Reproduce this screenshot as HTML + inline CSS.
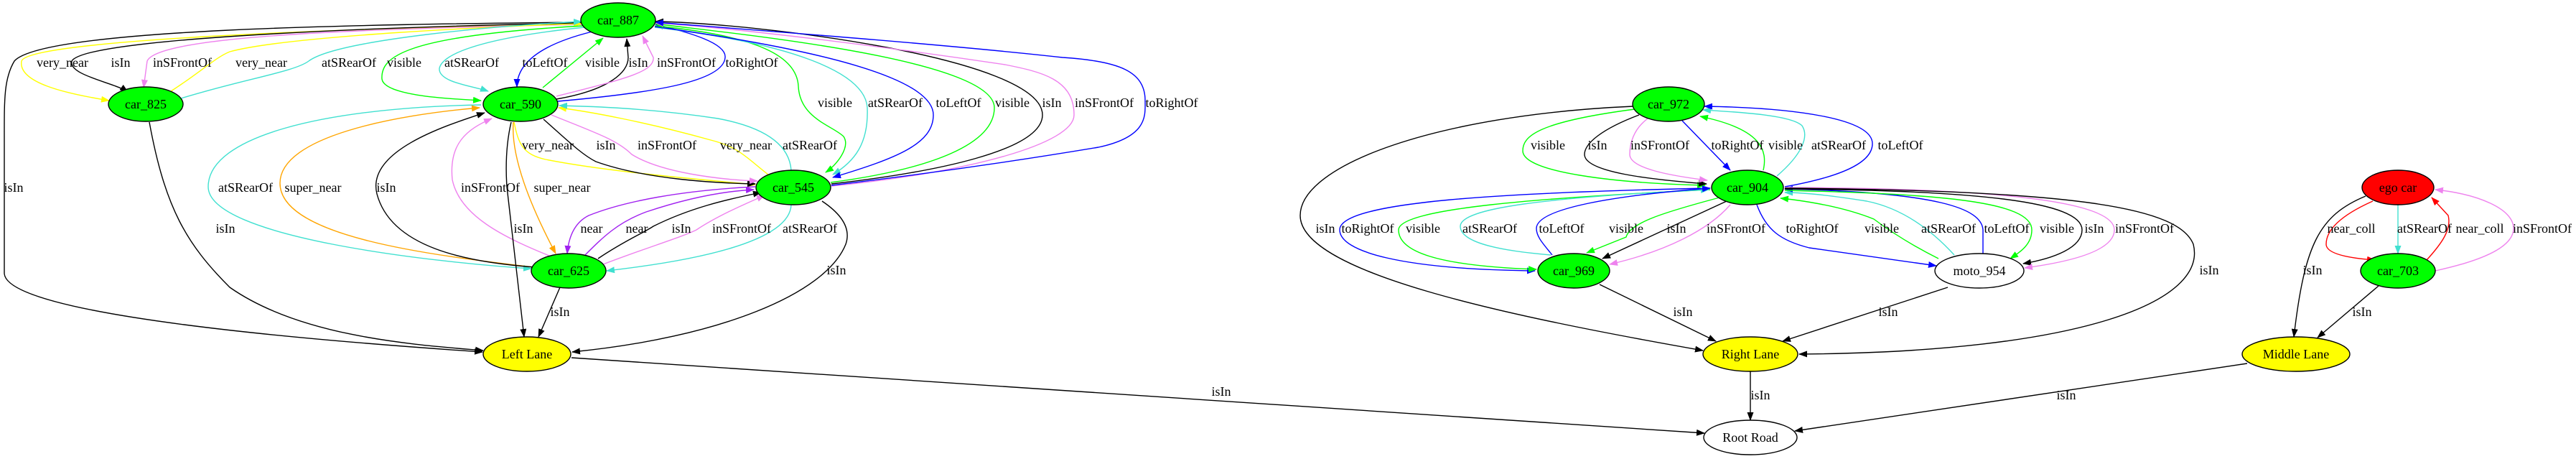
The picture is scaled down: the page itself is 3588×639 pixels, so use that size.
<!DOCTYPE html>
<html><head><meta charset="utf-8"><style>
html,body{margin:0;padding:0;background:#fff;}
svg{display:block;}
text{font-family:"Liberation Serif",serif;font-size:18px;text-anchor:middle;fill:#000;}
</style></head><body>
<svg width="3588" height="639" viewBox="0 0 3588 639" xmlns="http://www.w3.org/2000/svg">
<defs>
<marker id="k" markerWidth="12" markerHeight="9" refX="11" refY="4.5" orient="auto" markerUnits="userSpaceOnUse"><path d="M0,0L12,4.5L0,9z" fill="#000"/></marker>
<marker id="y" markerWidth="12" markerHeight="9" refX="11" refY="4.5" orient="auto" markerUnits="userSpaceOnUse"><path d="M0,0L12,4.5L0,9z" fill="#ffff00"/></marker>
<marker id="v" markerWidth="12" markerHeight="9" refX="11" refY="4.5" orient="auto" markerUnits="userSpaceOnUse"><path d="M0,0L12,4.5L0,9z" fill="#ee82ee"/></marker>
<marker id="c" markerWidth="12" markerHeight="9" refX="11" refY="4.5" orient="auto" markerUnits="userSpaceOnUse"><path d="M0,0L12,4.5L0,9z" fill="#40e0d0"/></marker>
<marker id="g" markerWidth="12" markerHeight="9" refX="11" refY="4.5" orient="auto" markerUnits="userSpaceOnUse"><path d="M0,0L12,4.5L0,9z" fill="#00ff00"/></marker>
<marker id="b" markerWidth="12" markerHeight="9" refX="11" refY="4.5" orient="auto" markerUnits="userSpaceOnUse"><path d="M0,0L12,4.5L0,9z" fill="#0000ff"/></marker>
<marker id="o" markerWidth="12" markerHeight="9" refX="11" refY="4.5" orient="auto" markerUnits="userSpaceOnUse"><path d="M0,0L12,4.5L0,9z" fill="#ffa500"/></marker>
<marker id="p" markerWidth="12" markerHeight="9" refX="11" refY="4.5" orient="auto" markerUnits="userSpaceOnUse"><path d="M0,0L12,4.5L0,9z" fill="#a020f0"/></marker>
<marker id="r" markerWidth="12" markerHeight="9" refX="11" refY="4.5" orient="auto" markerUnits="userSpaceOnUse"><path d="M0,0L12,4.5L0,9z" fill="#ff0000"/></marker>
</defs>
<g fill="none" stroke-width="1.4">
<!-- left cluster -->
<path stroke="#000" marker-end="url(#k)" d="M810,31 C500,34 60,40 20,85 C5,110 6,140 6,200 L6,380 C6,440 450,475 672,490"/>
<path stroke="#ffff00" marker-end="url(#y)" d="M810,34 C500,38 40,55 30,85 C25,115 90,130 152,140"/>
<path stroke="#000" marker-end="url(#k)" d="M812,32 C600,36 120,50 100,85 C95,105 160,115 178,128"/>
<path stroke="#ee82ee" marker-end="url(#v)" d="M812,34 C500,40 220,50 205,85 L200,122"/>
<path stroke="#ffff00" marker-end="url(#y)" d="M238,127 C280,100 300,80 320,72 C400,50 700,36 810,33"/>
<path stroke="#40e0d0" marker-end="url(#c)" d="M252,137 C340,110 410,100 430,85 C470,55 700,35 810,30"/>
<path stroke="#00ff00" marker-end="url(#g)" d="M812,36 C560,50 530,80 532,110 C535,135 640,138 670,140"/>
<path stroke="#40e0d0" marker-end="url(#c)" d="M814,38 C650,55 615,80 612,95 C610,115 660,120 680,127"/>
<path stroke="#0000ff" marker-end="url(#b)" d="M825,44 C740,65 720,95 720,121"/>
<path stroke="#00ff00" marker-end="url(#g)" d="M756,122 L840,53"/>
<path stroke="#000" marker-end="url(#k)" d="M775,138 C850,125 875,100 875,80 L873,54"/>
<path stroke="#ee82ee" marker-end="url(#v)" d="M775,134 C870,110 912,100 910,80 L895,50"/>
<path stroke="#0000ff" marker-end="url(#b)" d="M777,141 C900,130 1008,115 1010,80 C1012,60 960,45 913,34"/>
<path stroke="#00ff00" marker-end="url(#g)" d="M912,36 C1060,50 1110,80 1112,120 C1114,165 1160,175 1175,190 C1185,205 1165,230 1150,240"/>
<path stroke="#40e0d0" marker-end="url(#c)" d="M912,38 C1100,60 1205,100 1208,150 C1210,200 1190,225 1160,243"/>
<path stroke="#0000ff" marker-end="url(#b)" d="M912,37 C1150,70 1300,110 1300,160 C1300,200 1250,220 1160,247"/>
<path stroke="#00ff00" marker-end="url(#g)" d="M1157,254 C1300,235 1385,200 1385,150 C1385,80 1000,45 913,33"/>
<path stroke="#000" marker-end="url(#k)" d="M1158,256 C1300,240 1452,210 1452,160 C1452,80 1050,32 913,30"/>
<path stroke="#ee82ee" marker-end="url(#v)" d="M1158,259 C1350,240 1496,200 1496,160 C1496,110 1450,100 1400,90 C1200,60 1000,37 913,32"/>
<path stroke="#0000ff" marker-end="url(#b)" d="M1158,258 C1350,235 1500,210 1530,205 C1600,190 1595,160 1595,140 C1595,100 1560,85 1480,80 C1300,60 1000,38 913,31"/>
<path stroke="#ffff00" marker-end="url(#y)" d="M716,170 C722,200 728,215 760,222 C850,240 1000,252 1052,257"/>
<path stroke="#000" marker-end="url(#k)" d="M757,166 C790,195 810,215 830,225 C900,250 1000,255 1052,256"/>
<path stroke="#ee82ee" marker-end="url(#v)" d="M768,160 C830,185 860,195 880,215 C920,240 1000,250 1055,252"/>
<path stroke="#ffff00" marker-end="url(#y)" d="M1070,243 C1040,220 1030,205 990,195 C900,170 820,155 778,150"/>
<path stroke="#40e0d0" marker-end="url(#c)" d="M1102,237 C1100,210 1080,180 1000,165 C900,150 820,148 779,147"/>
<path stroke="#40e0d0" marker-end="url(#c)" d="M670,146 C450,150 290,190 290,260 C290,330 600,365 740,374"/>
<path stroke="#ffa500" marker-end="url(#o)" d="M743,372 C600,355 390,330 390,255 C390,190 550,160 668,150"/>
<path stroke="#000" marker-end="url(#k)" d="M745,372 C650,365 545,345 525,270 C510,210 620,175 675,157"/>
<path stroke="#ee82ee" marker-end="url(#v)" d="M770,358 C700,330 640,300 630,250 C625,200 650,180 685,165"/>
<path stroke="#ffa500" marker-end="url(#o)" d="M715,170 C712,210 730,270 774,353"/>
<path stroke="#000" marker-end="url(#k)" d="M712,170 C705,200 704,230 706,260 L730,469"/>
<path stroke="#a020f0" marker-end="url(#p)" d="M1052,260 C950,265 870,280 820,300 C800,310 792,330 790,353"/>
<path stroke="#a020f0" marker-end="url(#p)" d="M815,355 C840,330 860,310 900,295 C960,275 1010,266 1050,264"/>
<path stroke="#000" marker-end="url(#k)" d="M833,360 C870,335 895,325 910,315 C960,290 1010,278 1060,268"/>
<path stroke="#ee82ee" marker-end="url(#v)" d="M840,368 C900,345 950,330 970,320 C1000,300 1040,283 1065,272"/>
<path stroke="#40e0d0" marker-end="url(#c)" d="M1102,285 C1100,340 950,365 845,377"/>
<path stroke="#000" marker-end="url(#k)" d="M1145,280 C1175,300 1185,320 1178,340 C1150,410 1000,470 797,490"/>
<path stroke="#000" marker-end="url(#k)" d="M780,400 L750,469"/>
<path stroke="#000" marker-end="url(#k)" d="M208,170 C230,290 260,340 320,400 C420,470 580,480 673,488"/>
<path stroke="#000" marker-end="url(#k)" d="M796,498 L2374,603"/>
<!-- right cluster -->
<path stroke="#000" marker-end="url(#k)" d="M2275,148 C2000,160 1811,230 1811,300 C1811,380 2100,440 2372,488"/>
<path stroke="#00ff00" marker-end="url(#g)" d="M2277,152 C2140,170 2121,190 2121,210 C2121,240 2250,255 2375,258"/>
<path stroke="#000" marker-end="url(#k)" d="M2283,160 C2230,180 2207,200 2207,215 C2207,240 2300,250 2377,256"/>
<path stroke="#ee82ee" marker-end="url(#v)" d="M2295,165 C2275,180 2270,200 2270,215 C2270,235 2330,245 2378,251"/>
<path stroke="#0000ff" marker-end="url(#b)" d="M2343,168 L2410,237"/>
<path stroke="#00ff00" marker-end="url(#g)" d="M2456,237 C2462,210 2455,180 2368,162"/>
<path stroke="#40e0d0" marker-end="url(#c)" d="M2475,245 C2510,215 2520,190 2510,175 C2495,160 2420,156 2372,153"/>
<path stroke="#0000ff" marker-end="url(#b)" d="M2486,260 C2570,245 2608,225 2608,200 C2608,165 2500,150 2374,148"/>
<path stroke="#0000ff" marker-end="url(#b)" d="M2380,262 C2100,268 1866,280 1866,320 C1866,350 1950,375 2138,377"/>
<path stroke="#00ff00" marker-end="url(#g)" d="M2382,264 C2150,275 1948,290 1948,320 C1948,350 2000,370 2140,375"/>
<path stroke="#40e0d0" marker-end="url(#c)" d="M2160,355 C2100,350 2034,340 2034,315 C2034,290 2150,275 2380,264"/>
<path stroke="#0000ff" marker-end="url(#b)" d="M2162,355 C2150,340 2140,330 2140,318 C2140,290 2250,272 2382,262"/>
<path stroke="#00ff00" marker-end="url(#g)" d="M2395,275 C2320,295 2270,310 2265,330 L2210,352"/>
<path stroke="#000" marker-end="url(#k)" d="M2405,280 L2232,360"/>
<path stroke="#ee82ee" marker-end="url(#v)" d="M2410,285 C2380,320 2320,350 2242,368"/>
<path stroke="#0000ff" marker-end="url(#b)" d="M2447,285 C2460,320 2480,335 2520,345 L2697,370"/>
<path stroke="#00ff00" marker-end="url(#g)" d="M2700,360 C2660,340 2630,320 2610,305 C2560,285 2500,278 2480,276"/>
<path stroke="#40e0d0" marker-end="url(#c)" d="M2722,355 C2690,320 2650,290 2600,280 C2550,272 2510,268 2486,268"/>
<path stroke="#0000ff" marker-end="url(#b)" d="M2762,353 L2762,320 C2760,290 2700,268 2486,263"/>
<path stroke="#00ff00" marker-end="url(#g)" d="M2486,265 C2700,270 2830,280 2830,320 C2830,340 2815,350 2800,360"/>
<path stroke="#000" marker-end="url(#k)" d="M2486,263 C2750,265 2900,280 2900,320 C2900,345 2860,360 2818,367"/>
<path stroke="#ee82ee" marker-end="url(#v)" d="M2486,261 C2780,262 2945,280 2945,320 C2945,350 2880,365 2820,373"/>
<path stroke="#000" marker-end="url(#k)" d="M2486,262 C2900,265 3035,290 3055,340 C3075,420 2900,490 2506,493"/>
<path stroke="#000" marker-end="url(#k)" d="M2228,396 L2390,475"/>
<path stroke="#000" marker-end="url(#k)" d="M2713,400 L2483,475"/>
<path stroke="#000" marker-end="url(#k)" d="M2438,517 L2438,585"/>
<path stroke="#000" marker-end="url(#k)" d="M3130,506 L2500,600"/>
<path stroke="#000" marker-end="url(#k)" d="M3295,273 C3230,300 3210,340 3195,469"/>
<path stroke="#ff0000" marker-end="url(#r)" d="M3305,280 C3260,300 3240,320 3240,340 C3240,355 3280,360 3308,362"/>
<path stroke="#40e0d0" marker-end="url(#c)" d="M3340,285 L3340,353"/>
<path stroke="#ff0000" marker-end="url(#r)" d="M3380,362 C3400,340 3415,320 3410,300 L3387,275"/>
<path stroke="#ee82ee" marker-end="url(#v)" d="M3392,377 C3470,360 3501,340 3501,318 C3501,290 3450,270 3392,264"/>
<path stroke="#000" marker-end="url(#k)" d="M3313,398 L3228,470"/>
</g>
<!-- nodes -->
<g stroke="#000" stroke-width="1.4">
<ellipse cx="861" cy="28" rx="52" ry="24" fill="#00ff00"/>
<ellipse cx="203" cy="145" rx="52" ry="24" fill="#00ff00"/>
<ellipse cx="725" cy="145" rx="52" ry="24" fill="#00ff00"/>
<ellipse cx="1105" cy="261" rx="52" ry="24" fill="#00ff00"/>
<ellipse cx="792" cy="377" rx="52" ry="24" fill="#00ff00"/>
<ellipse cx="734" cy="493" rx="61" ry="24" fill="#ffff00"/>
<ellipse cx="2324" cy="145" rx="50" ry="24" fill="#00ff00"/>
<ellipse cx="2434" cy="261" rx="50" ry="24" fill="#00ff00"/>
<ellipse cx="2192" cy="377" rx="50" ry="24" fill="#00ff00"/>
<ellipse cx="2757" cy="377" rx="62" ry="24" fill="#fff"/>
<ellipse cx="2438" cy="493" rx="66" ry="24" fill="#ffff00"/>
<ellipse cx="2438" cy="609" rx="65" ry="24" fill="#fff"/>
<ellipse cx="3340" cy="261" rx="50" ry="24" fill="#ff0000"/>
<ellipse cx="3340" cy="377" rx="52" ry="24" fill="#00ff00"/>
<ellipse cx="3198" cy="493" rx="75" ry="24" fill="#ffff00"/>
</g>
<g>
<text x="861" y="34">car_887</text>
<text x="203" y="151">car_825</text>
<text x="725" y="151">car_590</text>
<text x="1105" y="267">car_545</text>
<text x="792" y="383">car_625</text>
<text x="734" y="499">Left Lane</text>
<text x="2324" y="151">car_972</text>
<text x="2434" y="267">car_904</text>
<text x="2192" y="383">car_969</text>
<text x="2757" y="383">moto_954</text>
<text x="2438" y="499">Right Lane</text>
<text x="2438" y="615">Root Road</text>
<text x="3340" y="267">ego car</text>
<text x="3340" y="383">car_703</text>
<text x="3198" y="499">Middle Lane</text>
</g>
<!-- edge labels -->
<g>
<text x="87" y="93">very_near</text><text x="168" y="93">isIn</text><text x="254" y="93">inSFrontOf</text><text x="364" y="93">very_near</text><text x="486" y="93">atSRearOf</text><text x="563" y="93">visible</text><text x="657" y="93">atSRearOf</text><text x="759" y="93">toLeftOf</text><text x="839" y="93">visible</text><text x="889" y="93">isIn</text><text x="956" y="93">inSFrontOf</text><text x="1047" y="93">toRightOf</text>
<text x="1163" y="149">visible</text><text x="1247" y="149">atSRearOf</text><text x="1335" y="149">toLeftOf</text><text x="1410" y="149">visible</text><text x="1465" y="149">isIn</text><text x="1538" y="149">inSFrontOf</text><text x="1632" y="149">toRightOf</text>
<text x="763" y="208">very_near</text><text x="844" y="208">isIn</text><text x="929" y="208">inSFrontOf</text><text x="1039" y="208">very_near</text><text x="1128" y="208">atSRearOf</text>
<text x="19" y="267">isIn</text><text x="342" y="267">atSRearOf</text><text x="436" y="267">super_near</text><text x="538" y="267">isIn</text><text x="683" y="267">inSFrontOf</text><text x="783" y="267">super_near</text>
<text x="314" y="324">isIn</text><text x="729" y="324">isIn</text><text x="824" y="324">near</text><text x="887" y="324">near</text><text x="949" y="324">isIn</text><text x="1033" y="324">inSFrontOf</text><text x="1128" y="324">atSRearOf</text>
<text x="1165" y="382">isIn</text><text x="780" y="440">isIn</text>
<text x="1701" y="551">isIn</text>
<text x="2156" y="208">visible</text><text x="2225" y="208">isIn</text><text x="2312" y="208">inSFrontOf</text><text x="2420" y="208">toRightOf</text><text x="2487" y="208">visible</text><text x="2561" y="208">atSRearOf</text><text x="2647" y="208">toLeftOf</text>
<text x="1846" y="324">isIn</text><text x="1905" y="324">toRightOf</text><text x="1982" y="324">visible</text><text x="2075" y="324">atSRearOf</text><text x="2175" y="324">toLeftOf</text><text x="2265" y="324">visible</text><text x="2335" y="324">isIn</text><text x="2418" y="324">inSFrontOf</text><text x="2524" y="324">toRightOf</text><text x="2621" y="324">visible</text><text x="2714" y="324">atSRearOf</text><text x="2795" y="324">toLeftOf</text><text x="2865" y="324">visible</text><text x="2917" y="324">isIn</text><text x="2987" y="324">inSFrontOf</text>
<text x="3275" y="324">near_coll</text><text x="3377" y="324">atSRearOf</text><text x="3454" y="324">near_coll</text><text x="3541" y="324">inSFrontOf</text>
<text x="3077" y="382">isIn</text><text x="3221" y="382">isIn</text>
<text x="2344" y="440">isIn</text><text x="2630" y="440">isIn</text><text x="3290" y="440">isIn</text>
<text x="2452" y="556">isIn</text><text x="2878" y="556">isIn</text>
</g>
</svg>
</body></html>
